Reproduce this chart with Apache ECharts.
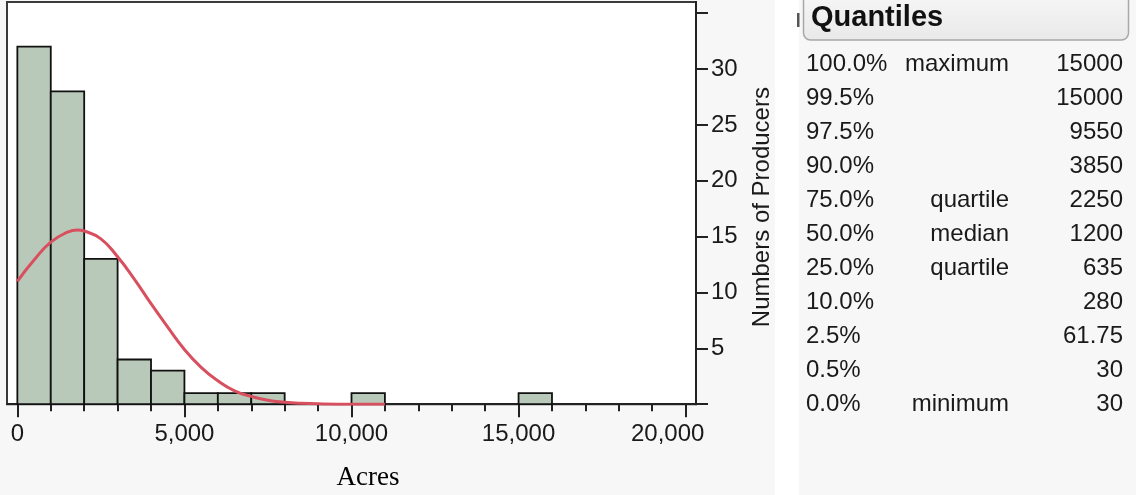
<!DOCTYPE html>
<html>
<head>
<meta charset="utf-8">
<script src="https://cdn.jsdelivr.net/npm/echarts@6/dist/echarts.min.js"></script>
<style>
  html, body { margin: 0; padding: 0; background: #f7f7f7; }
  #main { width: 1136px; height: 495px; }
</style>
</head>
<body>
<div id="main"></div>
<script>
// histogram bins (acres) and counts
var binStart = [0, 1000, 2000, 3000, 4000, 5000, 6000, 7000, 10000, 15000];
var binEnd   = [1000, 2000, 3000, 4000, 5000, 6000, 7000, 8000, 11000, 16000];
var binCount = [32, 28, 13, 4, 3, 1, 1, 1, 1, 1];

// fitted normal curve
var curveX = [0, 500, 1000, 1500, 1800, 2000, 2500, 3000, 3500, 4000, 4500, 5000, 5500, 6000, 6500, 7000, 7500, 8000, 8500, 9000, 10000, 11000];
var curveY = [11.0, 12.9, 14.5, 15.4, 15.6, 15.5, 14.8, 13.2, 11.2, 9.0, 6.9, 4.9, 3.3, 2.1, 1.2, 0.7, 0.35, 0.18, 0.08, 0.03, 0.0, 0.0];

var xMajorTicks = [0, 5000, 10000, 15000, 20000];
var xMinorTicks = [1000, 2000, 3000, 4000, 6000, 7000, 8000, 9000, 11000, 12000, 13000, 14000, 16000, 17000, 18000, 19000];
var yTicks  = [0, 5, 10, 15, 20, 25, 30, 35];
var yLabels = [5, 10, 15, 20, 25, 30];

// quantiles table
var quantilePct   = ['100.0%', '99.5%', '97.5%', '90.0%', '75.0%', '50.0%', '25.0%', '10.0%', '2.5%', '0.5%', '0.0%'];
var quantileLabel = ['maximum', '', '', '', 'quartile', 'median', 'quartile', '', '', '', 'minimum'];
var quantileValue = ['15000', '15000', '9550', '3850', '2250', '1200', '635', '280', '61.75', '30', '30'];

var FONT = '"Liberation Sans", Arial, sans-serif';

var hist = binStart.map(function (s, i) { return [s, binEnd[i], binCount[i]]; });
var curve = curveX.map(function (x, i) { return [x, curveY[i]]; });

var graphics = [
  { type: 'rect', shape: { x: 775, y: 0, width: 24, height: 495 }, style: { fill: '#ffffff' }, silent: true },
  { type: 'rect', shape: { x: 797, y: 13, width: 2.5, height: 14 }, style: { fill: '#555' }, silent: true },
  {
    type: 'rect', shape: { x: 803.5, y: -6, width: 325, height: 46, r: 7 },
    style: {
      fill: new echarts.graphic.LinearGradient(0, 0, 0, 1, [
        { offset: 0, color: '#f6f6f6' }, { offset: 1, color: '#e9e9e9' }
      ]),
      stroke: '#a8a8a8', lineWidth: 1.5
    },
    silent: true
  },
  {
    type: 'text', x: 811, y: 18,
    style: { text: 'Quantiles', font: 'bold 29px ' + FONT, fill: '#111', textVerticalAlign: 'middle' }
  },
  {
    type: 'text', x: 368, y: 491,
    style: { text: 'Acres', font: '27px "Liberation Serif", "Times New Roman", serif', fill: '#000', textAlign: 'center', textVerticalAlign: 'bottom' }
  }
];

quantilePct.forEach(function (p, i) {
  var y = 64 + i * 34;
  graphics.push({ type: 'text', x: 806, y: y, style: { text: p, font: '24px ' + FONT, fill: '#1a1a1a', textVerticalAlign: 'middle' } });
  if (quantileLabel[i]) {
    graphics.push({ type: 'text', x: 1009, y: y, style: { text: quantileLabel[i], font: '24px ' + FONT, fill: '#1a1a1a', textAlign: 'right', textVerticalAlign: 'middle' } });
  }
  graphics.push({ type: 'text', x: 1123, y: y, style: { text: quantileValue[i], font: '24px ' + FONT, fill: '#1a1a1a', textAlign: 'right', textVerticalAlign: 'middle' } });
});

var option = {
  backgroundColor: '#f7f7f7',
  animation: false,
  grid: {
    left: 7, right: 440, top: 2, bottom: 90.8,
    show: true, backgroundColor: '#ffffff', borderColor: '#3a3a3a', borderWidth: 2
  },
  xAxis: [
    {
      type: 'value', min: -310, max: 20310,
      axisLine: { show: true, onZero: false, lineStyle: { color: '#222', width: 2 } },
      axisTick: { show: true, customValues: xMajorTicks, length: 13, lineStyle: { color: '#222', width: 2 } },
      axisLabel: {
        customValues: xMajorTicks, margin: 18, fontSize: 24, fontFamily: FONT, color: '#1a1a1a',
        formatter: function (v) {
          var s = v.toLocaleString('en-US');
          return v === 20000 ? '{last|' + s + '}' : s;
        },
        rich: { last: { fontSize: 24, fontFamily: FONT, color: '#1a1a1a', padding: [0, 36, 0, 0] } }
      },
      splitLine: { show: false }
    },
    {
      type: 'value', min: -310, max: 20310, position: 'bottom',
      axisLine: { show: false },
      axisTick: { show: true, customValues: xMinorTicks, length: 7, lineStyle: { color: '#222', width: 2 } },
      axisLabel: { show: false },
      splitLine: { show: false }
    }
  ],
  yAxis: {
    type: 'value', position: 'right', min: 0, max: 36,
    axisLine: { show: true, onZero: false, lineStyle: { color: '#222', width: 2 } },
    axisTick: { show: true, customValues: yTicks, length: 12, lineStyle: { color: '#222', width: 2 } },
    axisLabel: { customValues: yLabels, margin: 15, fontSize: 24, fontFamily: FONT, color: '#1a1a1a' },
    splitLine: { show: false },
    name: 'Numbers of Producers', nameLocation: 'middle', nameRotate: 90, nameGap: 54,
    nameTextStyle: { fontSize: 24, fontFamily: FONT, color: '#1a1a1a', padding: [0, 8, 0, 0] }
  },
  graphic: graphics,
  series: [
    {
      type: 'custom',
      xAxisIndex: 0,
      data: hist,
      renderItem: function (params, api) {
        var p0 = api.coord([api.value(0), api.value(2)]);
        var p1 = api.coord([api.value(1), 0]);
        return {
          type: 'rect',
          shape: { x: p0[0], y: p0[1], width: p1[0] - p0[0], height: p1[1] - p0[1] },
          style: { fill: '#b9c9b9', stroke: '#111', lineWidth: 1.8 }
        };
      },
      encode: { x: [0, 1], y: 2 }
    },
    {
      type: 'line',
      xAxisIndex: 0,
      data: curve,
      smooth: true,
      showSymbol: false,
      lineStyle: { color: '#d8505f', width: 3 },
      z: 5
    }
  ]
};

var myChart = echarts.init(document.getElementById('main'));
myChart.setOption(option);
</script>
</body>
</html>
